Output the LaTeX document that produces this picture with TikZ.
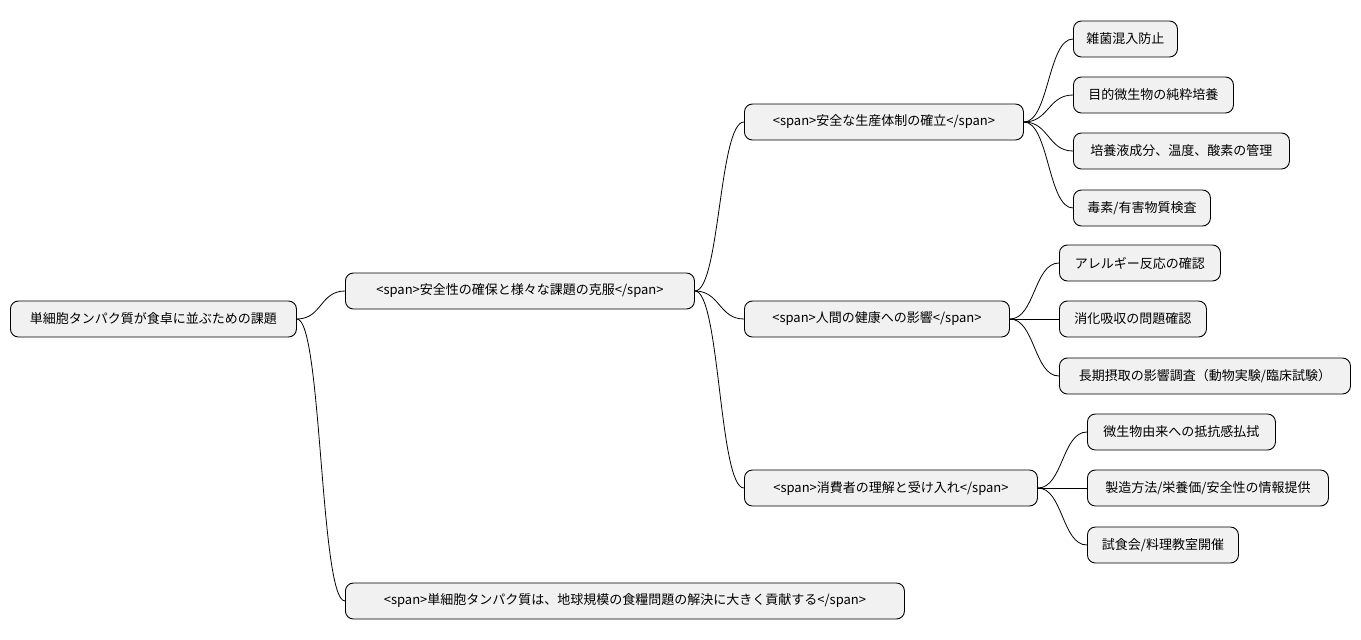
\documentclass[tikz,border=0pt]{standalone}
\usepackage{fontspec}
\setmainfont{Noto Sans CJK JP}
\begin{document}
\begin{tikzpicture}[x=1pt,y=-1pt,
  box/.style={draw=black,line width=0.9pt,fill={rgb,255:red,241;green,241;blue,241},rounded corners=8pt,minimum height=36pt,anchor=west,inner xsep=0pt,font=\fontsize{13pt}{15pt}\selectfont},
  conn/.style={line width=0.8pt}]
\fill[white] (0,0) rectangle (1361,640);
\newcommand\mk[5]{\node[box,minimum width=#4-#2] (#1) at (#2,#3) {#5};}
\mk{r}{10}{319}{296}{単細胞タンパク質が食卓に並ぶための課題}
\mk{a}{345}{291}{694}{<span>安全性の確保と様々な課題の克服</span>}
\mk{b}{345}{601}{904}{<span>単細胞タンパク質は、地球規模の食糧問題の解決に大きく貢献する</span>}
\mk{a1}{744}{122}{1023}{<span>安全な生産体制の確立</span>}
\mk{a2}{744}{319}{1009}{<span>人間の健康への影響</span>}
\mk{a3}{744}{488}{1037}{<span>消費者の理解と受け入れ</span>}
\mk{c1}{1073}{39}{1177}{雑菌混入防止}
\mk{c2}{1073}{95}{1233}{目的微生物の純粋培養}
\mk{c3}{1073}{151}{1289}{培養液成分、温度、酸素の管理}
\mk{c4}{1073}{208}{1210}{毒素/有害物質検査}
\mk{d1}{1059}{263}{1220}{アレルギー反応の確認}
\mk{d2}{1059}{319}{1206}{消化吸収の問題確認}
\mk{d3}{1059}{376}{1350}{長期摂取の影響調査（動物実験/臨床試験）}
\mk{e1}{1087}{432}{1275}{微生物由来への抵抗感払拭}
\mk{e2}{1087}{488}{1328}{製造方法/栄養価/安全性の情報提供}
\mk{e3}{1087}{545}{1238}{試食会/料理教室開催}
\newcommand\cn[2]{\draw[conn] (#1.east) .. controls ([xshift=25]#1.east) and ([xshift=-25]#2.west) .. (#2.west);}
\cn{r}{a}\cn{r}{b}
\cn{a}{a1}\cn{a}{a2}\cn{a}{a3}
\cn{a1}{c1}\cn{a1}{c2}\cn{a1}{c3}\cn{a1}{c4}
\cn{a2}{d1}\cn{a2}{d2}\cn{a2}{d3}
\cn{a3}{e1}\cn{a3}{e2}\cn{a3}{e3}
\end{tikzpicture}
\end{document}
